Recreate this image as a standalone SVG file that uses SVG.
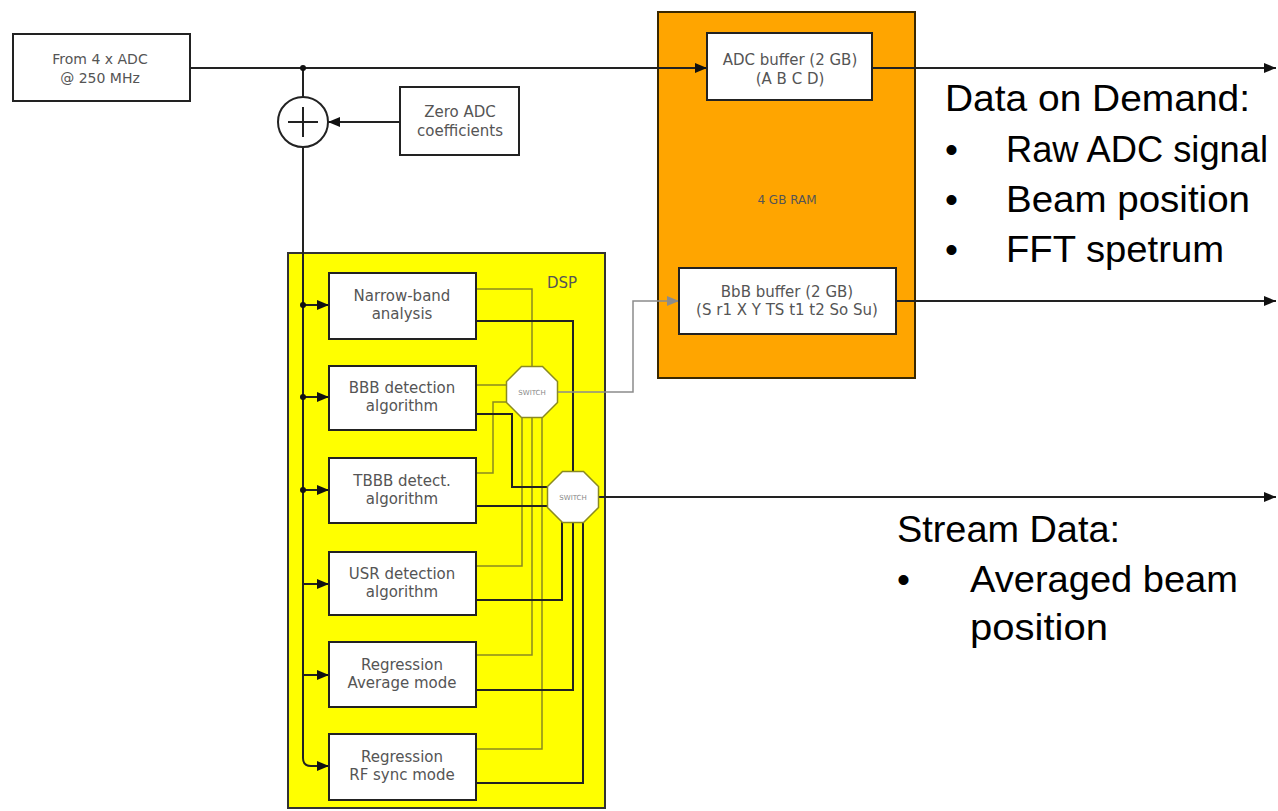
<svg xmlns="http://www.w3.org/2000/svg" width="1278" height="811" viewBox="0 0 1278 811">
<defs>
<style>
.box{fill:#fff;stroke:#222;stroke-width:2}
.lbl{font-family:"DejaVu Sans",sans-serif;font-size:15px;fill:#555;text-anchor:middle}
.sw{font-family:"DejaVu Sans",sans-serif;font-size:7px;fill:#888;text-anchor:middle}
.big{font-family:"Liberation Sans",Arial,sans-serif;font-size:37px;fill:#000}
.w{fill:none;stroke:#222;stroke-width:2}
.ol{fill:none;stroke:#8a8a20;stroke-width:1.5}
.gr{fill:none;stroke:#8c8c8c;stroke-width:1.5}
</style>
<marker id="ah" viewBox="0 0 12 10" refX="12" refY="5" markerWidth="12" markerHeight="10" markerUnits="userSpaceOnUse" orient="auto">
<path d="M0,0 L12,5 L0,10 z" fill="#111"/>
</marker>
<marker id="ahg" viewBox="0 0 12 10" refX="12" refY="5" markerWidth="12" markerHeight="10" markerUnits="userSpaceOnUse" orient="auto">
<path d="M0,0 L12,5 L0,10 z" fill="#8c8c8c"/>
</marker>
</defs>
<rect width="1278" height="811" fill="#fff"/>

<g id="dsp">
<rect x="288" y="253" width="317" height="555" fill="#ffff00" stroke="#333" stroke-width="2"/>
<text class="lbl" x="562" y="288">DSP</text>
</g>
<g id="ram">
<rect x="658" y="12" width="257" height="366" fill="#ffa500" stroke="#3a2800" stroke-width="2"/>
<text class="lbl" x="787" y="204" style="font-size:12px">4 GB RAM</text>
</g>

<g id="connectors">
<path class="w" d="M190,68 H707" marker-end="url(#ah)"/>
<path class="w" d="M303,68 V97"/>
<circle cx="303" cy="68" r="3" fill="#111"/>
<path class="w" d="M400,122 H328" marker-end="url(#ah)"/>
<path class="w" d="M303,147 V758 Q303,766 311,766 H329" marker-end="url(#ah)"/>
<path class="w" d="M303,305 H329" marker-end="url(#ah)"/>
<path class="w" d="M303,397 H329" marker-end="url(#ah)"/>
<path class="w" d="M303,490 H329" marker-end="url(#ah)"/>
<path class="w" d="M303,584 H329" marker-end="url(#ah)"/>
<path class="w" d="M303,675 H329" marker-end="url(#ah)"/>
<circle cx="303" cy="305" r="3" fill="#111"/>
<circle cx="303" cy="397" r="3" fill="#111"/>
<circle cx="303" cy="490" r="3" fill="#111"/>
<path class="ol" d="M476,289 H532 V367"/>
<path class="ol" d="M476,385 H508"/>
<path class="ol" d="M476,473 H493 V402 H508"/>
<path class="ol" d="M476,566 H522 V417"/>
<path class="ol" d="M476,655 H532 V417"/>
<path class="ol" d="M476,749 H542 V417"/>
<path class="w" d="M476,321 H573 V472"/>
<path class="w" d="M476,414 H512 V487 H549"/>
<path class="w" d="M476,506 H549"/>
<path class="w" d="M476,600 H562 V522"/>
<path class="w" d="M476,690 H573 V522"/>
<path class="w" d="M476,783 H583 V522"/>
<path class="gr" d="M557,392 H633 V301 H679" marker-end="url(#ahg)"/>
<path class="w" d="M598,497 H1276" marker-end="url(#ah)"/>
<path class="w" d="M872,68 H1276" marker-end="url(#ah)"/>
<path class="w" d="M896,301 H1276" marker-end="url(#ah)"/>
</g>

<g id="adc-in">
<rect class="box" x="13" y="34" width="177" height="67"/>
<text class="lbl" x="100" y="64" style="font-size:14px">From 4 x ADC</text>
<text class="lbl" x="100" y="83" style="font-size:14px">@ 250 MHz</text>
</g>
<g id="sum">
<circle cx="303" cy="122" r="25" fill="#fff" stroke="#222" stroke-width="2"/>
<path class="w" d="M288,122 H318 M303,107 V137"/>
</g>
<g id="zero-adc">
<rect class="box" x="400" y="87" width="119" height="68"/>
<text class="lbl" x="460" y="117">Zero ADC</text>
<text class="lbl" x="460" y="136">coefficients</text>
</g>
<g id="narrow-band">
<rect class="box" x="329" y="273" width="147" height="66"/>
<text class="lbl" x="402" y="301">Narrow-band</text>
<text class="lbl" x="402" y="319">analysis</text>
</g>
<g id="bbb">
<rect class="box" x="329" y="366" width="147" height="64"/>
<text class="lbl" x="402" y="393">BBB detection</text>
<text class="lbl" x="402" y="411">algorithm</text>
</g>
<g id="tbbb">
<rect class="box" x="329" y="458" width="147" height="65"/>
<text class="lbl" x="402" y="486">TBBB detect.</text>
<text class="lbl" x="402" y="504">algorithm</text>
</g>
<g id="usr">
<rect class="box" x="329" y="552" width="147" height="63"/>
<text class="lbl" x="402" y="579">USR detection</text>
<text class="lbl" x="402" y="597">algorithm</text>
</g>
<g id="reg-avg">
<rect class="box" x="329" y="642" width="147" height="65"/>
<text class="lbl" x="402" y="670">Regression</text>
<text class="lbl" x="402" y="688">Average mode</text>
</g>
<g id="reg-rf">
<rect class="box" x="329" y="734" width="147" height="66"/>
<text class="lbl" x="402" y="762">Regression</text>
<text class="lbl" x="402" y="780">RF sync mode</text>
</g>
<g id="switch1">
<polygon points="521.5,366.5 542.5,366.5 557.5,381.5 557.5,402.5 542.5,417.5 521.5,417.5 506.5,402.5 506.5,381.5" fill="#fff" stroke="#8a8a20" stroke-width="1.5"/>
<text class="sw" x="532" y="395">SWITCH</text>
</g>
<g id="switch2">
<polygon points="562.5,471.5 583.5,471.5 598.5,486.5 598.5,507.5 583.5,522.5 562.5,522.5 547.5,507.5 547.5,486.5" fill="#fff" stroke="#8a8a20" stroke-width="1.5"/>
<text class="sw" x="573" y="500">SWITCH</text>
</g>
<g id="adc-buffer">
<rect class="box" x="707" y="33" width="165" height="67"/>
<text class="lbl" x="790" y="65">ADC buffer (2 GB)</text>
<text class="lbl" x="790" y="84">(A B C D)</text>
</g>
<g id="bbb-buffer">
<rect class="box" x="679" y="268" width="217" height="66"/>
<text class="lbl" x="787" y="297">BbB buffer (2 GB)</text>
<text class="lbl" x="787" y="315">(S r1 X Y TS t1 t2 So Su)</text>
</g>

<g id="notes">
<text class="big" x="945" y="111" textLength="305" lengthAdjust="spacingAndGlyphs">Data on Demand:</text>
<text class="big" x="945" y="162">•</text>
<text class="big" x="1006" y="162" textLength="262" lengthAdjust="spacingAndGlyphs">Raw ADC signal</text>
<text class="big" x="945" y="212">•</text>
<text class="big" x="1006" y="212" textLength="244" lengthAdjust="spacingAndGlyphs">Beam position</text>
<text class="big" x="945" y="262">•</text>
<text class="big" x="1006" y="262" textLength="218" lengthAdjust="spacingAndGlyphs">FFT spetrum</text>
<text class="big" x="897" y="542" textLength="223" lengthAdjust="spacingAndGlyphs">Stream Data:</text>
<text class="big" x="897" y="592">•</text>
<text class="big" x="970" y="592" textLength="268" lengthAdjust="spacingAndGlyphs">Averaged beam</text>
<text class="big" x="970" y="640" textLength="138" lengthAdjust="spacingAndGlyphs">position</text>
</g>
</svg>
